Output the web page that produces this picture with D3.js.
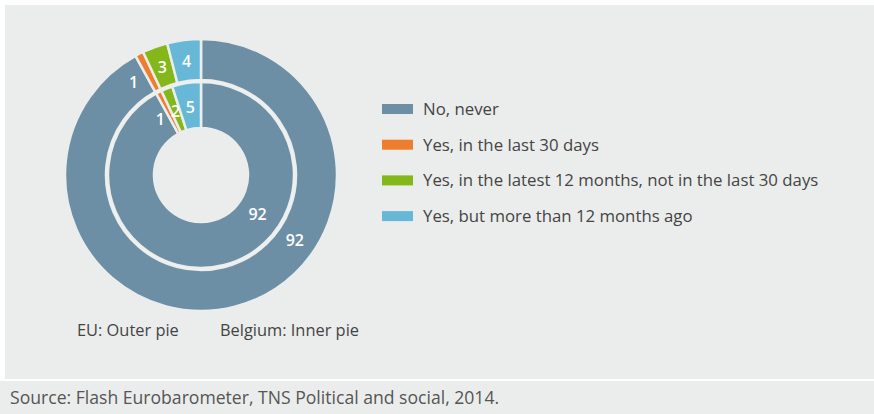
<!doctype html>
<html>
  <head>
    <meta charset="utf-8">
    <title>EU and Belgium: outer and inner pie</title>
    <script src="https://cdnjs.cloudflare.com/ajax/libs/d3/7.8.5/d3.min.js"></script>
    <style>
      body { margin: 0; background: #fff; }
      svg text { font-family: "Open Sans", "Noto Sans", sans-serif; }
    </style>
  </head>
  <body>
    <div id="my-svg-chart"></div>
    <script>
      // data
      const categories = ['No, never', 'Yes, in the last 30 days',
        'Yes, in the latest 12 months, not in the last 30 days', 'Yes, but more than 12 months ago'];
      const euValues = [92, 1, 3, 4];
      const belgiumValues = [92, 1, 2, 5];
      const colors = ['#6c8fa6', '#ee7d2e', '#84b81a', '#67b8d6'];

      const W = 874, H = 414;
      const cx = 201, cy = 175;

      const svg = d3.select('#my-svg-chart')
        .append('svg')
        .attr('width', W)
        .attr('height', H);

      // panels
      svg.append('rect').attr('x', 5).attr('y', 5).attr('width', W - 5).attr('height', 374).attr('fill', '#ebedec');
      svg.append('rect').attr('x', 0).attr('y', 381).attr('width', W).attr('height', 33).attr('fill', '#ebedec');

      const pie = d3.pie().sort(null).value(d => d);
      const color = d3.scaleOrdinal().domain(d3.range(categories.length)).range(colors);

      const g = svg.append('g').attr('transform', `translate(${cx},${cy})`);

      function ring(values, r0, r1) {
        const arcs = pie(values);
        const arc = d3.arc().innerRadius(r0).outerRadius(r1);
        g.append('g').selectAll('path')
          .data(arcs)
          .join('path')
          .attr('d', arc)
          .attr('fill', (d, i) => color(i))
          .attr('stroke', '#ebedec')
          .attr('stroke-width', 2.5);

        // labels
        const rl = (r0 + r1) / 2 - 1;
        g.append('g').selectAll('text')
          .data(arcs)
          .join('text')
          .attr('transform', d => {
            let a = (d.startAngle + d.endAngle) / 2;
            if (d.value > 50) a = 125 * Math.PI / 180;
            else if (d.endAngle - d.startAngle < 0.08) a -= 9 * Math.PI / 180;
            return `translate(${rl * Math.sin(a)},${-rl * Math.cos(a)})`;
          })
          .attr('text-anchor', 'middle')
          .attr('dy', '0.36em')
          .attr('fill', '#fff')
          .attr('font-size', 16)
          .attr('font-weight', 600)
          .text(d => d.value);
      }

      ring(euValues, 95, 136);
      ring(belgiumValues, 47, 93);

      // white circle between rings
      g.append('circle').attr('r', 94).attr('fill', 'none').attr('stroke', '#eef0ef').attr('stroke-width', 2.5);

      // legend
      const legend = svg.append('g');
      const rows = legend.selectAll('g')
        .data(categories)
        .join('g')
        .attr('transform', (d, i) => `translate(382,${109 + i * 35.7})`);
      rows.append('rect')
        .attr('x', 0).attr('y', -5)
        .attr('width', 31).attr('height', 10)
        .attr('fill', (d, i) => color(i));
      rows.append('text')
        .attr('x', 41)
        .attr('dy', '0.35em')
        .attr('font-size', 16.8)
        .attr('fill', '#444')
        .text(d => d);

      // pie names
      svg.append('text').attr('x', 77).attr('y', 330).attr('dy', '0.35em')
        .attr('font-size', 16.4).attr('fill', '#444').text('EU: Outer pie');
      svg.append('text').attr('x', 220).attr('y', 330).attr('dy', '0.35em')
        .attr('font-size', 16.4).attr('fill', '#444').text('Belgium: Inner pie');

      // source
      svg.append('text').attr('x', 10).attr('y', 398).attr('dy', '0.35em')
        .attr('font-size', 17.6).attr('fill', '#555')
        .text('Source: Flash Eurobarometer, TNS Political and social, 2014.');
    </script>
  </body>
</html>
